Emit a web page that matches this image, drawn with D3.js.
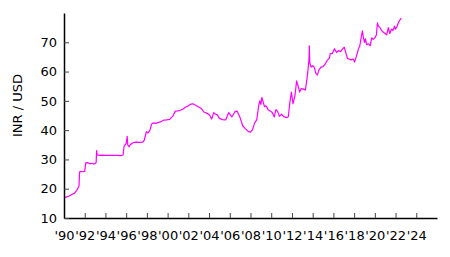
<!DOCTYPE html>
<html>
<head>
<meta charset="utf-8">
<script src="https://cdn.jsdelivr.net/npm/d3@7"></script>
<style>
  body { margin: 0; background: #fff; }
  svg { display: block; font-family: "DejaVu Sans", sans-serif; }
</style>
</head>
<body>
<div class="chart"></div>
<script>
const width = 450
const height = 257

// INR per USD, decimal year
const years = [
  1990.0, 1990.25, 1990.5, 1990.75, 1991.0, 1991.25, 1991.45, 1991.5, 1991.55, 1991.8,
  1992.0, 1992.1, 1992.3, 1992.5, 1992.7, 1992.9, 1993.1, 1993.15, 1993.2, 1993.4,
  1993.7, 1994.0, 1994.3, 1994.6, 1994.9, 1995.2, 1995.5, 1995.7, 1995.75, 1995.8,
  1995.9, 1996.0, 1996.1, 1996.15, 1996.3, 1996.4, 1996.6, 1996.8, 1997.0, 1997.3,
  1997.6, 1997.75, 1997.85, 1997.95, 1998.1, 1998.3, 1998.45, 1998.6, 1998.8, 1999.0,
  1999.3, 1999.6, 1999.9, 2000.2, 2000.5, 2000.75, 2001.0, 2001.25, 2001.5, 2001.75,
  2002.0, 2002.25, 2002.45, 2002.7, 2003.0, 2003.25, 2003.5, 2003.75, 2004.0, 2004.25,
  2004.45, 2004.6, 2004.8, 2005.0, 2005.3, 2005.6, 2005.9, 2006.2, 2006.5, 2006.7,
  2007.0, 2007.25, 2007.5, 2007.8, 2008.0, 2008.2, 2008.4, 2008.6, 2008.8, 2008.9,
  2009.0, 2009.1, 2009.35, 2009.5, 2009.7, 2009.9, 2010.1, 2010.3, 2010.45, 2010.6,
  2010.8, 2011.0, 2011.2, 2011.5, 2011.65, 2011.8, 2011.95, 2012.1, 2012.3, 2012.45,
  2012.6, 2012.75, 2012.9, 2013.1, 2013.3, 2013.45, 2013.55, 2013.65, 2013.68, 2013.72,
  2013.85, 2014.0, 2014.15, 2014.3, 2014.45, 2014.6, 2014.8, 2015.0, 2015.2, 2015.4,
  2015.6, 2015.7, 2015.9, 2016.1, 2016.3, 2016.5, 2016.7, 2016.9, 2017.05, 2017.2,
  2017.35, 2017.5, 2017.7, 2017.9, 2018.05, 2018.2, 2018.4, 2018.55, 2018.7, 2018.8,
  2018.9, 2019.0, 2019.1, 2019.2, 2019.4, 2019.55, 2019.7, 2019.85, 2020.0, 2020.15,
  2020.25, 2020.35, 2020.5, 2020.65, 2020.8, 2021.0, 2021.15, 2021.3, 2021.45, 2021.6,
  2021.75, 2021.9, 2022.0, 2022.15, 2022.25, 2022.4, 2022.55
]
const rates = [
  16.9, 17.2, 17.5, 18.0, 18.4, 19.5, 21.0, 25.5, 25.9, 25.8,
  25.9, 28.8, 28.9, 28.5, 28.7, 28.4, 28.9, 33.0, 31.6, 31.4,
  31.5, 31.4, 31.4, 31.4, 31.4, 31.4, 31.3, 31.5, 33.0, 34.5,
  35.0, 35.5, 37.9, 35.0, 34.3, 35.0, 35.6, 35.8, 35.9, 35.8,
  35.9, 36.6, 38.0, 39.5, 39.0, 40.0, 42.0, 42.5, 42.3, 42.5,
  42.8, 43.4, 43.5, 43.7, 44.8, 46.5, 46.6, 46.8, 47.2, 47.9,
  48.3, 48.9, 49.0, 48.5, 47.9, 47.4, 46.2, 45.8, 45.4, 43.8,
  46.0, 45.5, 45.2, 44.0, 43.6, 43.5, 46.0, 44.5, 46.3, 46.5,
  44.2, 41.5, 40.5, 39.5, 39.3, 40.2, 42.5, 43.5, 48.5, 50.0,
  48.8, 51.2, 48.0, 48.3, 47.0, 46.5, 46.0, 44.5, 47.0, 46.5,
  44.7, 45.5, 44.6, 44.3, 44.6, 49.5, 53.0, 49.0, 52.0, 56.8,
  55.0, 53.0, 54.2, 54.0, 53.7, 57.5, 60.5, 64.5, 68.8, 63.0,
  61.5, 62.0, 61.5, 59.5, 58.8, 60.5, 61.5, 61.7, 62.5, 63.8,
  64.5, 66.1, 66.2, 67.8, 66.5, 67.2, 66.8, 67.8, 68.3, 66.5,
  64.5, 64.3, 64.0, 64.3, 63.3, 65.0, 67.5, 68.8, 72.0, 73.9,
  71.5, 70.0, 71.2, 69.2, 69.5, 68.8, 71.5, 71.0, 71.5, 72.5,
  76.6, 75.5, 75.0, 74.0, 73.5, 73.0, 72.5, 75.0, 73.0, 74.5,
  74.0, 75.5, 74.5, 75.5, 76.5, 77.5, 78.3
]
const xTicks = d3.range(1990, 2025, 2)
const yTicks = [10, 20, 30, 40, 50, 60, 70]
const yLabel = 'INR / USD'

const margin = { left: 64, right: 13, top: 13, bottom: 39 }

const xScale = d3.scaleLinear().domain([1990, 2026]).range([margin.left, width - margin.right])
const yScale = d3.scaleLinear().domain([10, 80]).range([height - margin.bottom, margin.top])

const svg = d3.select('.chart')
  .append('svg')
  .attr('width', width)
  .attr('height', height)

svg.append('path')
  .datum(years.map((y, i) => [y, rates[i]]))
  .attr('fill', 'none')
  .attr('stroke', '#ff00ff')
  .attr('stroke-width', 1.2)
  .attr('stroke-linejoin', 'round')
  .attr('d', d3.line().x(d => xScale(d[0])).y(d => yScale(d[1])))

const xAxis = d3.axisBottom(xScale)
  .tickValues(xTicks)
  .tickFormat(d => "'" + String(d).slice(2))
  .tickSize(-5)
  .tickSizeOuter(0)
  .tickPadding(13)

const yAxis = d3.axisLeft(yScale)
  .tickValues(yTicks)
  .tickSize(-5)
  .tickSizeOuter(0)
  .tickPadding(7)

const gx = svg.append('g')
  .attr('transform', `translate(0, ${height - margin.bottom})`)
  .call(xAxis)

const gy = svg.append('g')
  .attr('transform', `translate(${margin.left}, 0)`)
  .call(yAxis)

for (const g of [gx, gy]) {
  g.select('.domain').attr('stroke', '#000').attr('stroke-width', 1.5)
  g.selectAll('.tick line').attr('stroke', '#444').attr('stroke-width', 1)
  g.selectAll('.tick text')
    .attr('fill', '#000')
    .style('font-size', '13px')
    .style('font-family', '"DejaVu Sans", sans-serif')
}

svg.append('text')
  .attr('transform', `translate(22, ${(margin.top + height - margin.bottom) / 2 - 10}) rotate(-90)`)
  .attr('text-anchor', 'middle')
  .style('font-size', '13px')
  .text(yLabel)
</script>
</body>
</html>
